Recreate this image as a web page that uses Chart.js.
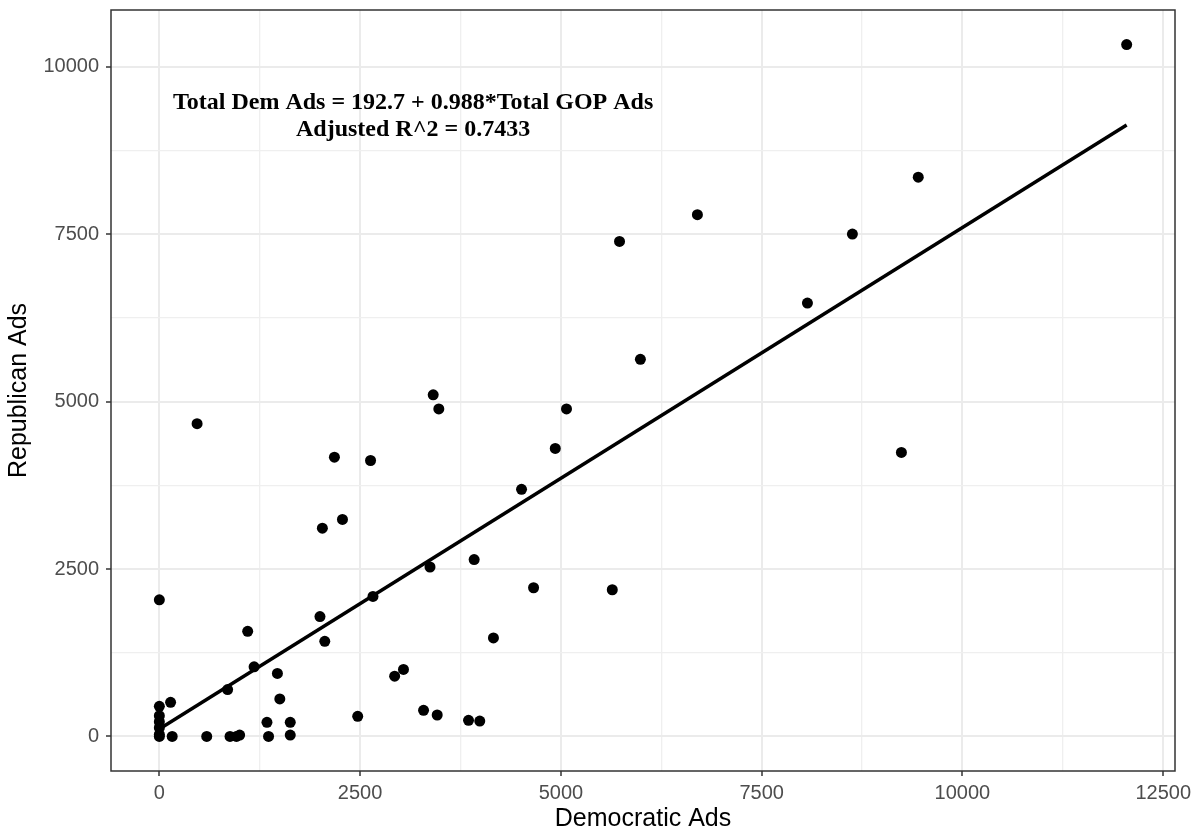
<!DOCTYPE html>
<html>
<head>
<meta charset="utf-8">
<script src="https://cdn.jsdelivr.net/npm/chart.js@4.4.1/dist/chart.umd.min.js"></script>
<style>
  html, body { margin: 0; padding: 0; background: #ffffff; }
  #c { display: block; }
</style>
</head>
<body>
<canvas id="c" width="1195" height="835"></canvas>
<script>
// ---- Data ----
const demAds = [0, 0, 0, 0, 0, 0, 0, 140, 160, 590, 470, 850, 880, 960, 1000, 1100, 1180, 1340, 1360, 1470, 1500, 1630, 1630, 2000, 2060, 2030, 2280, 2180, 2630, 2470, 2660, 2930, 3040, 3290, 3460, 3370, 3410, 3480, 3850, 3990, 3920, 4160, 4510, 4660, 4930, 5070, 5640, 5730, 5990, 6700, 8070, 8630, 9240, 9450, 12045];
const gopAds = [2040, 450, 310, 220, 130, 30, 0, 510, 0, 0, 4670, 700, 0, 0, 20, 1570, 1040, 210, 0, 940, 560, 210, 20, 1790, 1420, 3110, 3240, 4170, 4120, 300, 2090, 900, 1000, 390, 320, 2530, 5100, 4890, 240, 230, 2640, 1470, 3690, 2220, 4300, 4890, 2190, 7390, 5630, 7790, 6470, 7500, 4240, 8350, 10330];

// fitted line endpoints (as drawn in the reference)
const fitX = [0, 12045];
const fitY = [110, 9130];

// axis ticks
const xMajorTicks = [0, 2500, 5000, 7500, 10000, 12500];
const xMinorTicks = [1250, 3750, 6250, 8750, 11250];
const yMajorTicks = [0, 2500, 5000, 7500, 10000];
const yMinorTicks = [1250, 3750, 6250, 8750];

const annotationLines = ['Total Dem Ads = 192.7 + 0.988*Total GOP Ads', 'Adjusted R^2 = 0.7433'];
const annotationPos = { x: 3160, y: [9460, 9060] };

const xTitle = 'Democratic Ads';
const yTitle = 'Republican Ads';

// ---- Build ----
const points = demAds.map((d, i) => ({ x: d, y: gopAds[i] }));
const fitPoints = fitX.map((d, i) => ({ x: d, y: fitY[i] }));

const sansFont = "'Liberation Sans', Arial, Helvetica, sans-serif";

function isMajor(list, v) { return list.indexOf(v) !== -1; }

const panelBorder = {
  id: 'panelBorder',
  afterDatasetsDraw(chart) {
    const { ctx, chartArea: a, scales } = chart;
    ctx.save();
    // annotation
    ctx.fillStyle = '#000';
    ctx.font = "bold 24px 'Liberation Serif', 'Times New Roman', serif";
    ctx.textAlign = 'center';
    ctx.textBaseline = 'middle';
    annotationLines.forEach((t, i) => {
      ctx.fillText(t, scales.x.getPixelForValue(annotationPos.x), scales.y.getPixelForValue(annotationPos.y[i]));
    });
    // border
    ctx.strokeStyle = '#333333';
    ctx.lineWidth = 1.5;
    ctx.strokeRect(a.left, a.top, a.right - a.left, a.bottom - a.top);
    ctx.restore();
  }
};

new Chart(document.getElementById('c'), {
  type: 'scatter',
  data: {
    datasets: [
      {
        label: 'fit',
        data: fitPoints,
        showLine: true,
        borderColor: '#000000',
        borderWidth: 3.5,
        pointRadius: 0,
        order: 0
      },
      {
        label: 'states',
        data: points,
        backgroundColor: '#000000',
        borderWidth: 0,
        pointRadius: 5.5,
        order: 1
      }
    ]
  },
  options: {
    responsive: false,
    animation: false,
    events: [],
    layout: { padding: { left: 0, right: 20, top: 10, bottom: 0 } },
    plugins: {
      legend: { display: false },
      tooltip: { enabled: false }
    },
    scales: {
      x: {
        type: 'linear',
        min: -602,
        max: 12647,
        afterBuildTicks(scale) {
          scale.ticks = xMajorTicks.concat(xMinorTicks).sort((a, b) => a - b).map(v => ({ value: v }));
        },
        afterFit(scale) { scale.height = 64; scale.paddingLeft = 0; scale.paddingRight = 0; },
        border: { display: false },
        grid: {
          color: ctx => isMajor(xMajorTicks, ctx.tick && ctx.tick.value) ? '#EBEBEB' : '#EFEFEF',
          lineWidth: ctx => isMajor(xMajorTicks, ctx.tick && ctx.tick.value) ? 2 : 1.3,
          tickColor: ctx => isMajor(xMajorTicks, ctx.tick && ctx.tick.value) ? '#333333' : 'rgba(0,0,0,0)',
          tickLength: 5,
          tickWidth: 1.5
        },
        ticks: {
          autoSkip: false,
          maxRotation: 0,
          padding: 5,
          color: '#4D4D4D',
          font: { family: sansFont, size: 20 },
          callback: v => isMajor(xMajorTicks, v) ? String(v) : ''
        },
        title: {
          display: true,
          text: xTitle,
          color: '#000000',
          font: { family: sansFont, size: 25 },
          padding: { top: 0, bottom: 1 }
        }
      },
      y: {
        type: 'linear',
        min: -516,
        max: 10846,
        afterBuildTicks(scale) {
          scale.ticks = yMajorTicks.concat(yMinorTicks).sort((a, b) => a - b).map(v => ({ value: v }));
        },
        afterFit(scale) { scale.width = 111; scale.paddingTop = 0; scale.paddingBottom = 0; },
        border: { display: false },
        grid: {
          color: ctx => isMajor(yMajorTicks, ctx.tick && ctx.tick.value) ? '#EBEBEB' : '#EFEFEF',
          lineWidth: ctx => isMajor(yMajorTicks, ctx.tick && ctx.tick.value) ? 2 : 1.3,
          tickColor: ctx => isMajor(yMajorTicks, ctx.tick && ctx.tick.value) ? '#333333' : 'rgba(0,0,0,0)',
          tickLength: 5,
          tickWidth: 1.5
        },
        ticks: {
          autoSkip: false,
          padding: 7,
          color: '#4D4D4D',
          font: { family: sansFont, size: 20 },
          callback: v => isMajor(yMajorTicks, v) ? String(v) : ''
        },
        title: {
          display: true,
          text: yTitle,
          color: '#000000',
          font: { family: sansFont, size: 25 },
          padding: { top: 4, bottom: 0 }
        }
      }
    }
  },
  plugins: [panelBorder]
});
</script>
</body>
</html>
